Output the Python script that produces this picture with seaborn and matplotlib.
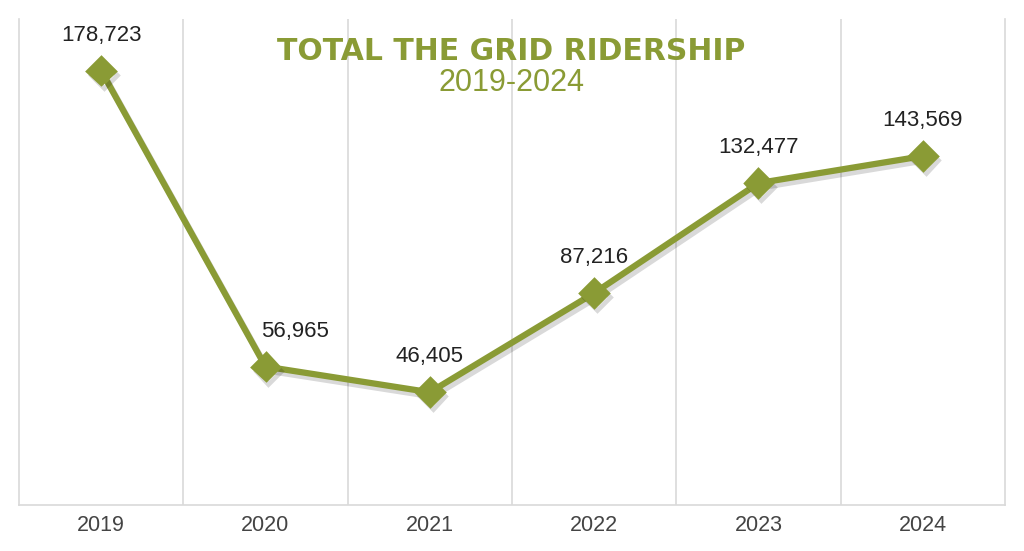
import matplotlib
matplotlib.use("Agg")
import matplotlib.pyplot as plt
import matplotlib.patheffects as pe
import seaborn as sns
import pandas as pd

years = ["2019", "2020", "2021", "2022", "2023", "2024"]
riders = [178723, 56965, 46405, 87216, 132477, 143569]
title = "TOTAL THE GRID RIDERSHIP"
subtitle = "2019-2024"

sns.set_theme(style="white")
plt.rcParams["font.family"] = ["Liberation Sans", "DejaVu Sans"]

olive = "#8a9b35"
df = pd.DataFrame({"year": years, "riders": riders})

fig = plt.figure(figsize=(10.24, 5.51), dpi=100)
ax = fig.add_axes([19/1024, 46/551, 986/1024, 486/551])

sns.pointplot(data=df, x="year", y="riders", color=olive, marker="D",
              markersize=13, linewidth=4.5, ax=ax)

shadow = [pe.SimpleLineShadow(offset=(2, -3), alpha=0.15, shadow_color="black"), pe.Normal()]
for ln in ax.lines:
    ln.set_path_effects(shadow)
for coll in ax.collections:
    coll.set_path_effects(shadow)

ax.set_xlim(-0.5, len(years) - 0.5)
ax.set_ylim(0, 200000)
ax.set_yticks([])
ax.set_xlabel("")
ax.set_ylabel("")
ax.set_xticks(range(len(years)))
ax.set_xticklabels(years, fontsize=15.5, color="#444444")
ax.tick_params(axis="x", length=0, pad=7)
ax.set_xticks([i + 0.5 for i in range(len(years) - 1)], minor=True)
ax.grid(False)
ax.grid(True, which="minor", axis="x", color="#d9d9d9", linewidth=1.2)
ax.tick_params(which="minor", length=0)
for s in ["left", "right", "bottom"]:
    ax.spines[s].set_color("#d9d9d9")
    ax.spines[s].set_linewidth(1.2)
ax.spines["top"].set_visible(False)

# label nudged right to clear the line (as in the source)
label_dx = {1: 21}
for i, v in enumerate(riders):
    ax.annotate(f"{v:,}", (i, v), xytext=(label_dx.get(i, 0), 18),
                textcoords="offset points",
                ha="center", va="bottom", fontsize=16, color="#222222")

fig.text(511/1024, 1 - 52/551, title, ha="center", va="center",
         fontsize=21.5, fontweight="bold", color=olive, family=["DejaVu Sans"])
fig.text(511/1024, 1 - 83/551, subtitle, ha="center", va="center",
         fontsize=22, color=olive)

fig.savefig("out.png", dpi=100)
